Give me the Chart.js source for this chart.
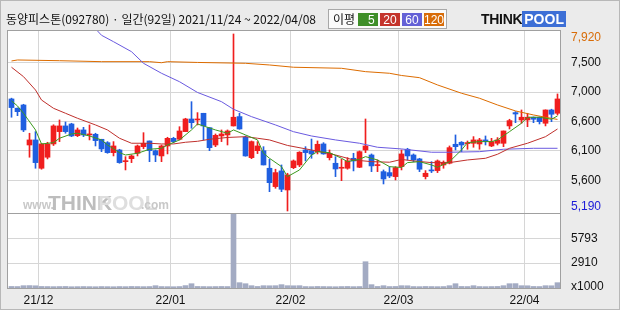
<!DOCTYPE html>
<html><head><meta charset="utf-8">
<script src="https://cdn.jsdelivr.net/npm/chart.js@4"></script>
<style>
html,body{margin:0;padding:0;background:#ebebeb;}
#wrap{position:relative;width:620px;height:310px;overflow:hidden;background:#ebebeb;}
#frame{position:absolute;left:0;top:0;width:618px;height:308px;border:1px solid #b8b8b8;pointer-events:none;}
canvas{position:absolute;left:0;top:0;}
#title{position:absolute;left:6px;top:10px;font:12px "Noto Sans CJK KR",sans-serif;color:#111;white-space:nowrap;line-height:18px;}
#lg{position:absolute;left:328px;top:9px;width:117px;height:18px;border:1px solid #a8a8a8;background:#fafafa;font:12px "Noto Sans CJK KR",sans-serif;}
#lg .t{position:absolute;left:4px;top:0px;line-height:18px;color:#111;}
#lg .b{position:absolute;top:3px;height:13px;width:20px;color:#fff;text-align:right;line-height:13px;font:12px "Liberation Sans",sans-serif;}
#logo{position:absolute;left:481px;top:12px;height:15px;font:bold 14px "Liberation Sans",sans-serif;line-height:15px;white-space:nowrap;}
#logo .k{color:#111;letter-spacing:-0.3px;}
#logo .p{color:#fff;background:#3d6fd6;padding:0 2px;}
</style></head>
<body>
<div id="wrap">
<canvas id="c" width="620" height="310"></canvas>
<div id="title">동양피스톤(092780) · 일간(92일) 2021/11/24 ~ 2022/04/08</div>
<div id="lg"><span class="t">이평</span>
<span class="b" style="left:29px;background:#3e8e28">5&nbsp;</span>
<span class="b" style="left:51px;background:#c4332b">20&nbsp;</span>
<span class="b" style="left:73px;background:#6461d6">60&nbsp;</span>
<span class="b" style="left:95px;background:#d86c08">120</span>
</div>
<div id="logo"><span class="k">THINK</span><span class="p">POOL</span></div>
<div id="frame"></div>
</div>
<script>
// ---- data (trading day index 0..91 : 2021/11/24 ~ 2022/04/08) ----
const open = [6918,6775,6825,6208,6286,5849,6019,6224,6414,6502,
6532,6352,6440,6363,6373,6296,6244,6090,6131,5951,
5997,6080,6182,6270,6120,6039,6193,6311,6296,6414,
6609,6594,6697,6475,6208,6347,6363,6502,6646,6327,
6013,6120,6120,5849,5566,5808,5514,5858,5900,6131,
6120,6105,6224,6013,5926,5849,5849,6003,5864,6131,
6054,5890,5797,5782,5720,5874,6142,6054,5993,5720,
5818,5813,5900,5926,6219,6250,6229,6234,6224,6286,
6193,6234,6234,6502,6707,6594,6594,6636,6636,6543,
6748,6697];
const high = [6930,6780,6836,6389,6414,6230,6250,6520,6594,6563,
6543,6470,6480,6517,6389,6296,6260,6260,6142,6028,
6054,6208,6398,6270,6131,6208,6327,6327,6490,6620,
6876,6707,6697,6475,6378,6440,6440,7920,6697,6347,
6270,6260,6182,5988,5834,5900,5772,5977,6105,6182,
6300,6270,6244,6131,6028,5988,6013,6080,6116,6609,
6070,5977,5823,5874,5874,6131,6157,6070,6003,5813,
5951,5977,5962,6193,6363,6260,6270,6337,6311,6347,
6311,6322,6424,6605,6723,6748,6697,6640,6640,6750,
6760,6995];
const low = [6636,6660,6414,6019,5849,5834,5993,6200,6260,6389,
6337,6337,6337,6286,6193,6105,6080,6039,5926,5823,
5936,6039,6150,5951,5951,5951,6070,6240,6286,6414,
6466,6517,6286,6120,6182,6260,6208,6500,6450,6035,
5997,6075,5900,5488,5540,5488,5190,5843,5874,5962,
6003,6070,6065,5977,5720,5658,5834,5808,5858,6090,
5797,5797,5607,5705,5669,5823,5977,5951,5797,5684,
5782,5782,5849,5916,6131,6105,6142,6173,6142,6208,
6182,6208,6182,6455,6552,6543,6490,6552,6532,6502,
6568,6671];
const close = [6785,6722,6440,6286,5936,6224,6224,6502,6502,6414,
6347,6440,6363,6375,6275,6147,6090,6193,5936,5962,
6039,6193,6234,6120,6054,6193,6311,6260,6424,6609,
6552,6609,6502,6167,6357,6378,6424,6636,6455,6039,
6260,6193,5900,5627,5782,5525,5746,5962,6096,6090,
6070,6219,6070,6080,5838,5860,5962,5962,6105,6193,
5885,5900,5684,5730,5859,6070,6039,5977,5834,5772,
5808,5962,5942,6167,6182,6208,6239,6286,6286,6260,
6260,6286,6424,6584,6686,6636,6636,6605,6568,6748,
6682,6918];
// volume, thousands of shares
const volume = [180,170,270,280,260,
180,170,160,170,180,150,160,170,160,150,170,160,150,170,160,180,170,160,170,
270,170,160,150,170,280,500,
180,170,160,170,180,170,
8690,620,500,270,180,270,260,270,390,270,260,270,
170,160,180,170,160,150,170,180,160,170,
3060,390,180,270,170,180,270,260,
170,160,180,170,160,170,
270,500,180,170,270,170,160,170,180,
270,500,510,270,260,180,170,270,260,620];
// moving averages: [day index, price]
const ma5 = [[0,6887],[1,6810],[2,6697],[4,6440],[5,6224],[7,6244],[8,6312],[10,6378],[11,6389],[13,6347],[15,6286],[16,6208],[18,6090],[19,6054],[21,6080],[23,6142],[25,6157],[26,6208],[28,6286],[30,6440],[31,6532],[34,6440],[36,6389],[37,6440],[39,6363],[41,6286],[42,6080],[43,6003],[45,5874],[46,5720],[48,5823],[50,6054],[51,6105],[53,6090],[55,6003],[56,5951],[58,5988],[59,6028],[61,5977],[63,5874],[65,5861],[66,5936],[68,5951],[70,5900],[71,5864],[73,5951],[75,6131],[76,6244],[78,6260],[80,6260],[81,6286],[83,6414],[85,6543],[86,6636],[88,6636],[90,6605],[91,6656]];
const ma20 = [[0,7407],[2,7262],[4,7056],[5,6902],[7,6774],[9,6697],[11,6620],[14,6517],[16,6440],[18,6312],[20,6235],[23,6235],[25,6224],[27,6224],[29,6250],[31,6265],[33,6296],[36,6324],[39,6336],[41,6312],[43,6286],[46,6201],[50,6131],[54,6054],[57,5977],[60,5951],[63,5942],[65,5985],[67,5962],[70,5936],[73,5936],[76,5977],[79,6003],[81,6065],[83,6157],[86,6235],[89,6336],[91,6455]];
const ma60 = [[14,8000],[15,7900],[17,7801],[20,7647],[22,7468],[25,7314],[28,7184],[31,7018],[35,6876],[37,6759],[40,6645],[44,6517],[47,6413],[50,6347],[54,6286],[58,6235],[61,6173],[65,6147],[70,6096],[73,6096],[78,6105],[82,6142],[87,6157],[91,6157]];
const ma120 = [[0,7504],[1,7519],[8,7508],[15,7493],[23,7493],[25,7477],[26,7493],[31,7481],[39,7468],[43,7442],[47,7407],[55,7391],[59,7339],[63,7314],[65,7280],[68,7246],[71,7134],[75,7006],[78,6929],[81,6825],[84,6733],[87,6671],[89,6636],[91,6602]];
// axis labels
const monthTickPos = [4.5, 26.5, 46.5, 64.5, 85.5];
const monthLabels = ['21/12','22/01','22/02','22/03','22/04'];
const priceTickVals = [7858, 7473, 7025, 6563, 6116, 5653, 5252];
const priceTickLabels = ['7,920','7,500','7,000','6,600','6,100','5,600','5,190'];
const volTickVals = [5793, 2910, 200];
const volTickLabels = ['5793','2910','x1000'];

const RED = '#f01e1e', BLUE = '#1f5fe0';
const idx = close.map((_, i) => i);
const up = i => close[i] >= open[i];
const candleColor = c => up(c.dataIndex) ? RED : BLUE;
const pts = a => a.map(p => ({x: p[0], y: p[1]}));

const bgPlugin = {
  id: 'bg',
  beforeDraw(chart) {
    const {ctx, chartArea: a} = chart;
    ctx.save(); ctx.fillStyle = '#ffffff';
    ctx.fillRect(a.left, a.top, a.right - a.left, a.bottom - a.top);
    ctx.restore();
  },
  beforeDatasetsDraw(chart) {
    const {ctx} = chart;
    ctx.save();
    ctx.textBaseline = 'alphabetic';
    ctx.font = 'bold 12px "Liberation Sans"'; ctx.fillStyle = '#c8c8c8';
    ctx.fillText('www.', 23, 209);
    ctx.font = 'bold 21px "Liberation Sans"'; ctx.fillStyle = '#bdbdbd';
    ctx.fillText('THINK', 48, 210);
    ctx.fillStyle = '#dedede';
    ctx.fillText('POOL', 98, 210);
    ctx.font = 'bold 12px "Liberation Sans"'; ctx.fillStyle = '#c8c8c8';
    ctx.fillText('.com', 141, 209);
    ctx.restore();
  },
  afterDraw(chart) {
    const {ctx, chartArea: a} = chart;
    const yb = Math.round(chart.scales.y.bottom) + 0.5;
    ctx.save(); ctx.strokeStyle = '#a0a0a0'; ctx.lineWidth = 1;
    ctx.strokeRect(Math.round(a.left) - 0.5, Math.round(a.top) - 0.5, Math.round(a.right - a.left) + 1, Math.round(a.bottom - a.top) + 1);
    ctx.beginPath(); ctx.moveTo(a.left, yb); ctx.lineTo(a.right, yb); ctx.stroke();
    ctx.restore();
  }
};

const axFont = {family: '"Liberation Sans"', size: 12};
new Chart(document.getElementById('c'), {
  type: 'bar',
  data: {
    datasets: [
      {type: 'line', label: 'MA5', data: pts(ma5), borderColor: '#3c9a1e', borderWidth: 1, pointRadius: 0, yAxisID: 'y', order: 0},
      {type: 'line', label: 'MA20', data: pts(ma20), borderColor: '#c0302c', borderWidth: 1, pointRadius: 0, yAxisID: 'y', order: 0},
      {type: 'line', label: 'MA60', data: pts(ma60), borderColor: '#6a5ae0', borderWidth: 1, pointRadius: 0, yAxisID: 'y', order: 0},
      {type: 'line', label: 'MA120', data: pts(ma120), borderColor: '#dd6c00', borderWidth: 1, pointRadius: 0, yAxisID: 'y', order: 0},
      {label: 'body', data: idx.map(i => ({x: i, y: [open[i], close[i]]})), backgroundColor: candleColor, barThickness: 5, minBarLength: 1, grouped: false, yAxisID: 'y', order: 1},
      {label: 'wick', data: idx.map(i => ({x: i, y: [low[i], high[i]]})), backgroundColor: candleColor, barThickness: 1, grouped: false, yAxisID: 'y', order: 2},
      {label: 'vol', data: idx.map(i => ({x: i, y: volume[i]})), backgroundColor: '#a3abc3', barThickness: 5, grouped: false, yAxisID: 'yv', order: 3}
    ]
  },
  options: {
    responsive: false, animation: false, devicePixelRatio: 1,
    layout: {padding: {left: 8, top: 31, right: 0, bottom: 0}},
    plugins: {legend: {display: false}, tooltip: {enabled: false}},
    scales: {
      x: {
        type: 'linear', min: -0.5 - 1/12, max: 91.5 - 1/12, position: 'bottom',
        offset: false,
        afterBuildTicks: s => { s.ticks = monthTickPos.map(v => ({value: v})); },
        afterFit: s => { s.height = 22; },
        grid: {color: '#d6d6d6', drawTicks: false, offset: false},
        border: {display: false},
        ticks: {padding: 5, color: '#111', font: axFont, maxRotation: 0, autoSkip: false,
          callback: (v, i) => monthLabels[i]}
      },
      y: {
        position: 'right', stack: 'main', stackWeight: 182,
        min: 5159, max: 7966,
        afterBuildTicks: s => { s.ticks = priceTickVals.map(v => ({value: v})); },
        afterFit: s => { s.width = 60; },
        grid: {color: c => (c.index === 0 || c.index === priceTickVals.length - 1) ? 'rgba(0,0,0,0)' : '#d6d6d6', drawTicks: false},
        border: {display: false},
        ticks: {padding: 11, font: axFont, autoSkip: false,
          color: c => c.index === 0 ? '#d86c08' : (c.index === priceTickVals.length - 1 ? '#1b1bd8' : '#111'),
          callback: (v, i) => priceTickLabels[i]}
      },
      yv: {
        position: 'right', stack: 'main', stackWeight: 75,
        min: 0, max: 8730,
        afterBuildTicks: s => { s.ticks = volTickVals.map(v => ({value: v})); },
        afterFit: s => { s.width = 60; },
        grid: {color: c => c.index === volTickVals.length - 1 ? 'rgba(0,0,0,0)' : '#d6d6d6', drawTicks: false},
        border: {display: false},
        ticks: {padding: 11, font: axFont, color: '#111', autoSkip: false,
          callback: (v, i) => volTickLabels[i]}
      }
    }
  },
  plugins: [bgPlugin]
});
</script>
</body></html>
